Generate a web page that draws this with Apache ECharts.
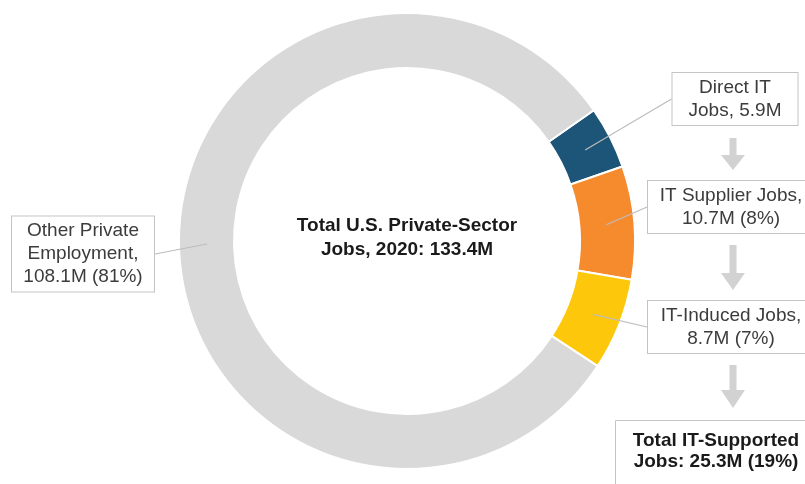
<!DOCTYPE html>
<html>
<head>
<meta charset="utf-8">
<script src="https://cdn.jsdelivr.net/npm/echarts@6/dist/echarts.min.js"></script>
<style>
  html, body { margin: 0; padding: 0; background: #fff; }
  #chart { width: 805px; height: 484px; }
</style>
</head>
<body>
<div id="chart"></div>
<script>
  // data (millions of jobs, 2020)
  const categories = ['Direct IT Jobs', 'IT Supplier Jobs', 'IT-Induced Jobs', 'Other Private Employment'];
  const jobs = [5.9, 10.7, 8.7, 108.1];
  const labelHeads = ['Direct IT\nJobs, ', 'IT Supplier Jobs,\n', 'IT-Induced Jobs,\n', 'Other Private\nEmployment,\n'];
  const showPercent = [false, true, true, true];
  const itFlags = [true, true, true, false];
  const colors = ['#1c5577', '#f68b2d', '#fdc80c', '#d9d9d9'];

  const total = jobs.reduce((a, b) => a + b, 0);
  const itTotal = jobs.filter((v, i) => itFlags[i]).reduce((a, b) => a + b, 0);

  // where the callout boxes sit
  const boxPos = [[735, 99], [731, 207], [731, 327], [83, 254]];
  const boxWidth = [109, 150, 150, 126];

  const font = 'Liberation Sans, Arial, sans-serif';
  const center = [407, 241];

  let myChart = echarts.init(document.getElementById('chart'));

  function arrow(cx, y0, yh, yt) {
    return {
      type: 'polygon',
      silent: true,
      shape: {
        points: [[cx - 3.5, y0], [cx + 3.5, y0], [cx + 3.5, yh], [cx + 12, yh], [cx, yt], [cx - 12, yh], [cx - 3.5, yh]]
      },
      style: { fill: '#d2d2d2' }
    };
  }

  myChart.setOption({
    animation: false,
    series: [
      {
        type: 'pie',
        z: 2,
        center: center,
        radius: [173, 228],
        startAngle: 35,
        clockwise: true,
        avoidLabelOverlap: false,
        silent: true,
        label: { show: false },
        labelLine: { show: false },
        itemStyle: { borderColor: '#fff', borderWidth: 2 },
        data: categories.map((c, i) => ({ name: c, value: jobs[i], itemStyle: { color: colors[i] } }))
      },
      {
        // invisible pie, only used to hang the callouts at mid-ring
        type: 'pie',
        z: 6,
        center: center,
        radius: [0, 200],
        startAngle: 35,
        clockwise: true,
        avoidLabelOverlap: false,
        silent: true,
        itemStyle: { color: 'rgba(0,0,0,0)', borderWidth: 0 },
        label: {
          show: true,
          position: 'outside',
          fontFamily: font,
          fontSize: 19,
          lineHeight: 23,
          color: '#3c3c3c',
          backgroundColor: '#fff',
          borderColor: '#c4c4c4',
          borderWidth: 1,
          padding: [3, 8],
          align: 'center',
          formatter: function (p) {
            let i = p.dataIndex;
            let txt = labelHeads[i] + jobs[i].toFixed(1) + 'M';
            if (showPercent[i]) txt += ' (' + Math.round(jobs[i] / total * 100) + '%)';
            return txt;
          }
        },
        labelLine: {
          show: true,
          length: 0,
          length2: 0,
          lineStyle: { color: '#bdbdbd', width: 1.2 }
        },
        labelLayout: function (params) {
          let p = boxPos[params.dataIndex];
          return { x: p[0], y: p[1], align: 'center', verticalAlign: 'middle' };
        },
        data: categories.map((c, i) => ({ name: c, value: jobs[i], label: { width: boxWidth[i] } }))
      }
    ],
    graphic: [
      {
        type: 'text',
        x: center[0],
        y: 238,
        silent: true,
        style: {
          text: 'Total U.S. Private-Sector\nJobs, 2020: ' + total.toFixed(1) + 'M',
          fontFamily: font,
          fontSize: 19,
          fontWeight: 'bold',
          lineHeight: 24,
          fill: '#1a1a1a',
          align: 'center',
          verticalAlign: 'middle'
        }
      },
      arrow(733, 138, 155, 170),
      arrow(733, 245, 273, 290),
      arrow(733, 365, 390, 408),
      {
        type: 'rect',
        silent: true,
        shape: { x: 615.5, y: 420.5, width: 205, height: 80 },
        style: { fill: '#fff', stroke: '#c4c4c4', lineWidth: 1 }
      },
      {
        type: 'text',
        x: 716,
        y: 451,
        silent: true,
        style: {
          text: 'Total IT-Supported\nJobs: ' + itTotal.toFixed(1) + 'M (' + Math.round(itTotal / total * 100) + '%)',
          fontFamily: font,
          fontSize: 19,
          fontWeight: 'bold',
          lineHeight: 21,
          fill: '#1a1a1a',
          align: 'center',
          verticalAlign: 'middle'
        }
      }
    ]
  });
</script>
</body>
</html>
